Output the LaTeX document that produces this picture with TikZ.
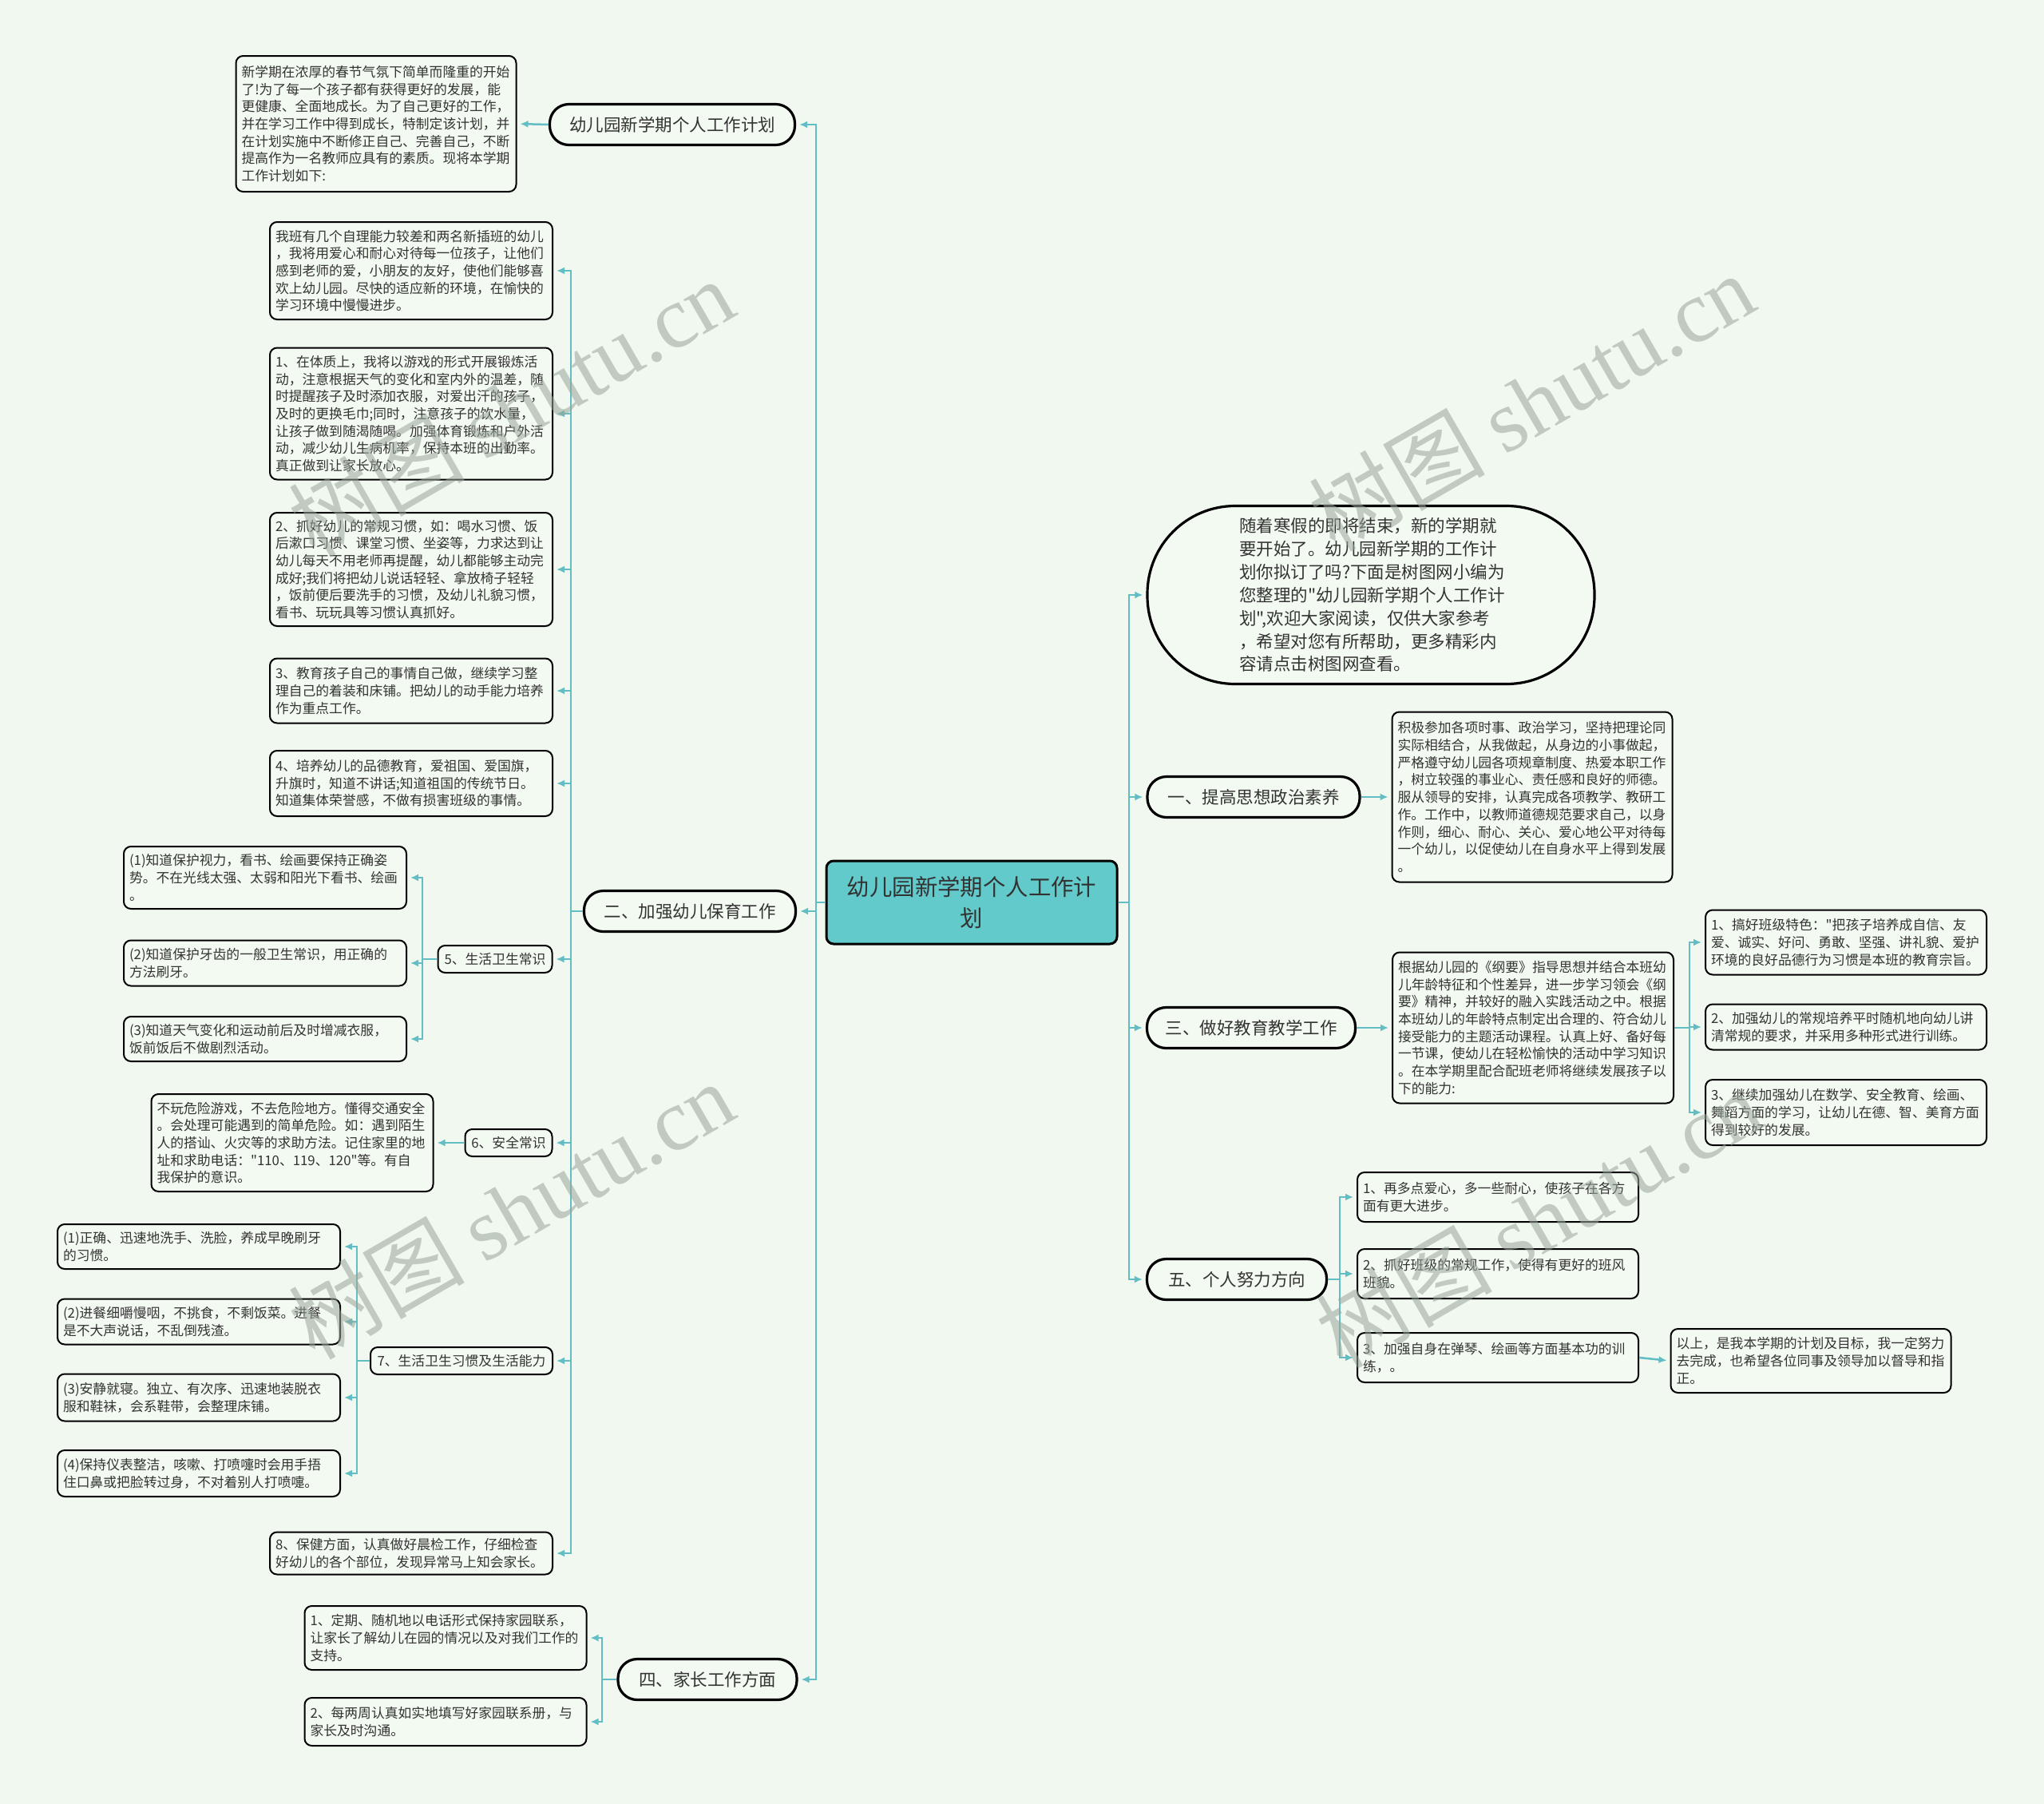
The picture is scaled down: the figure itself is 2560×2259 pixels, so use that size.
\documentclass[tikz,border=0pt]{standalone}
\usepackage{fontspec}
\setmainfont{Noto Sans CJK SC}[Ligatures=TeXOff]
\newfontfamily\wmserif{Liberation Serif}
\usetikzlibrary{arrows.meta}
\definecolor{bgc}{HTML}{F0F8EF}
\definecolor{boxc}{HTML}{F3FAF2}
\definecolor{linec}{HTML}{62BEC4}
\definecolor{rootc}{HTML}{62CACB}
\definecolor{txt}{HTML}{333333}
\definecolor{wmc}{HTML}{9AA59A}
\tikzset{
  tbox/.style={draw=black, line width=2, rounded corners=9, fill=boxc, text=txt,
    align=left, inner sep=7, font=\fontsize{16.8}{21.7}\selectfont,
    text width=#1-14, minimum width=#1},
  sbox/.style={draw=black, line width=2, rounded corners=9, fill=boxc, text=txt,
    inner sep=5, font=\fontsize{16.8}{21.7}\selectfont, minimum height=34},
  pill/.style={draw=black, line width=3.2, rounded corners=24, fill=boxc, text=txt,
    inner sep=6, font=\fontsize{21.5}{26}\selectfont, minimum height=51},
  conn/.style={draw=linec, line width=2.5},
  arr/.style={conn, -{Latex[length=10,width=9]}, shorten >=4},
  wm/.style={text=wmc, opacity=0.55, rotate=30, font=\fontsize{110}{120}\selectfont}
}
\begin{document}
\begin{tikzpicture}[x=1pt,y=-1pt]
\useasboundingbox (0,0) rectangle (2560,2259);
\fill[bgc] (0,0) rectangle (2560,2259);

% root
\node[draw=black, line width=3, rounded corners=9, fill=rootc, text=txt, align=center,
  minimum width=364, minimum height=104, font=\fontsize{28.4}{39}\selectfont] (root) at (1217,1130)
  {幼儿园新学期个人工作计\\划};

% ---------- left side ----------
\coordinate (jL) at (1022,1130);
\node[pill, minimum width=307] (pA) at (842,156) {幼儿园新学期个人工作计划};
\node[tbox=351, minimum height=170] (a1) at (471,155) {新学期在浓厚的春节气氛下简单而隆重的开始\\了!为了每一个孩子都有获得更好的发展，能\\更健康、全面地成长。为了自己更好的工作，\\并在学习工作中得到成长，特制定该计划，并\\在计划实施中不断修正自己、完善自己，不断\\提高作为一名教师应具有的素质。现将本学期\\工作计划如下:};

\node[pill, minimum width=265] (p2) at (864,1141) {二、加强幼儿保育工作};
\coordinate (j2) at (715,1141);

\node[tbox=354, minimum height=122] (c0) at (515,339) {我班有几个自理能力较差和两名新插班的幼儿\\，我将用爱心和耐心对待每一位孩子，让他们\\感到老师的爱，小朋友的友好，使他们能够喜\\欢上幼儿园。尽快的适应新的环境，在愉快的\\学习环境中慢慢进步。};
\node[tbox=354, minimum height=165] (c1) at (515,518) {1、在体质上，我将以游戏的形式开展锻炼活\\动，注意根据天气的变化和室内外的温差，随\\时提醒孩子及时添加衣服，对爱出汗的孩子，\\及时的更换毛巾;同时，注意孩子的饮水量，\\让孩子做到随渴随喝。加强体育锻炼和户外活\\动，减少幼儿生病机率，保持本班的出勤率。\\真正做到让家长放心。};
\node[tbox=354, minimum height=142] (c2) at (515,713) {2、抓好幼儿的常规习惯，如：喝水习惯、饭\\后漱口习惯、课堂习惯、坐姿等，力求达到让\\幼儿每天不用老师再提醒，幼儿都能够主动完\\成好;我们将把幼儿说话轻轻、拿放椅子轻轻\\，饭前便后要洗手的习惯，及幼儿礼貌习惯，\\看书、玩玩具等习惯认真抓好。};
\node[tbox=354, minimum height=81] (c3) at (515,865) {3、教育孩子自己的事情自己做，继续学习整\\理自己的着装和床铺。把幼儿的动手能力培养\\作为重点工作。};
\node[tbox=354, minimum height=82] (c4) at (515,981) {4、培养幼儿的品德教育，爱祖国、爱国旗，\\升旗时，知道不讲话;知道祖国的传统节日。\\知道集体荣誉感，不做有损害班级的事情。};
\node[sbox, minimum width=143] (c5) at (620,1201) {5、生活卫生常识};
\node[sbox, minimum width=109] (c6) at (637,1431) {6、安全常识};
\node[sbox, minimum width=228] (c7) at (578,1704) {7、生活卫生习惯及生活能力};
\node[tbox=354, minimum height=53] (c8) at (515,1945) {8、保健方面，认真做好晨检工作，仔细检查\\好幼儿的各个部位，发现异常马上知会家长。};

\coordinate (j5) at (529,1201);
\node[tbox=354, minimum height=78] (c5a) at (332,1099) {(1)知道保护视力，看书、绘画要保持正确姿\\势。不在光线太强、太弱和阳光下看书、绘画\\。};
\node[tbox=354, minimum height=57] (c5b) at (332,1206) {(2)知道保护牙齿的一般卫生常识，用正确的\\方法刷牙。};
\node[tbox=354, minimum height=56] (c5c) at (332,1301) {(3)知道天气变化和运动前后及时增减衣服，\\饭前饭后不做剧烈活动。};

\node[tbox=353, minimum height=122] (c6a) at (366,1431) {不玩危险游戏，不去危险地方。懂得交通安全\\。会处理可能遇到的简单危险。如：遇到陌生\\人的搭讪、火灾等的求助方法。记住家里的地\\址和求助电话："110、119、120"等。有自\\我保护的意识。};

\coordinate (j7) at (447,1704);
\node[tbox=354, minimum height=56] (c7a) at (249,1561) {(1)正确、迅速地洗手、洗脸，养成早晚刷牙\\的习惯。};
\node[tbox=354, minimum height=57] (c7b) at (249,1655) {(2)进餐细嚼慢咽，不挑食，不剩饭菜。进餐\\是不大声说话，不乱倒残渣。};
\node[tbox=354, minimum height=59] (c7c) at (249,1750) {(3)安静就寝。独立、有次序、迅速地装脱衣\\服和鞋袜，会系鞋带，会整理床铺。};
\node[tbox=354, minimum height=58] (c7d) at (249,1845) {(4)保持仪表整洁，咳嗽、打喷嚏时会用手捂\\住口鼻或把脸转过身，不对着别人打喷嚏。};

\node[pill, minimum width=224] (p4) at (886,2103) {四、家长工作方面};
\coordinate (j4) at (754,2103);
\node[tbox=353, minimum height=80] (d1) at (558,2051) {1、定期、随机地以电话形式保持家园联系，\\让家长了解幼儿在园的情况以及对我们工作的\\支持。};
\node[tbox=353, minimum height=60] (d2) at (558,2156) {2、每两周认真如实地填写好家园联系册，与\\家长及时沟通。};

% ---------- right side ----------
\coordinate (jR) at (1414,1130);
\node[draw=black, line width=3.2, rounded corners=110, fill=boxc, text=txt, align=left,
  minimum width=560, minimum height=223, text width=330, inner sep=6,
  font=\fontsize{21.5}{28.9}\selectfont] (intro) at (1717,745)
  {随着寒假的即将结束，新的学期就\\要开始了。幼儿园新学期的工作计\\划你拟订了吗?下面是树图网小编为\\您整理的"幼儿园新学期个人工作计\\划",欢迎大家阅读，仅供大家参考\\，希望对您有所帮助，更多精彩内\\容请点击树图网查看。};

\node[pill, minimum width=266] (p1) at (1570,998) {一、提高思想政治素养};
\node[tbox=351, minimum height=213] (e1) at (1919,998) {积极参加各项时事、政治学习，坚持把理论同\\实际相结合，从我做起，从身边的小事做起，\\严格遵守幼儿园各项规章制度、热爱本职工作\\，树立较强的事业心、责任感和良好的师德。\\服从领导的安排，认真完成各项教学、教研工\\作。工作中，以教师道德规范要求自己，以身\\作则，细心、耐心、关心、爱心地公平对待每\\一个幼儿，以促使幼儿在自身水平上得到发展\\。};

\node[pill, minimum width=261] (p3) at (1567,1287) {三、做好教育教学工作};
\node[tbox=352, minimum height=189] (f1) at (1920,1287) {根据幼儿园的《纲要》指导思想并结合本班幼\\儿年龄特征和个性差异，进一步学习领会《纲\\要》精神，并较好的融入实践活动之中。根据\\本班幼儿的年龄特点制定出合理的、符合幼儿\\接受能力的主题活动课程。认真上好、备好每\\一节课，使幼儿在轻松愉快的活动中学习知识\\。在本学期里配合配班老师将继续发展孩子以\\下的能力:};
\coordinate (j3) at (2116,1287);
\node[tbox=352, minimum height=81] (f1a) at (2312,1180) {1、搞好班级特色："把孩子培养成自信、友\\爱、诚实、好问、勇敢、坚强、讲礼貌、爱护\\环境的良好品德行为习惯是本班的教育宗旨。};
\node[tbox=352, minimum height=57] (f1b) at (2312,1286) {2、加强幼儿的常规培养平时随机地向幼儿讲\\清常规的要求，并采用多种形式进行训练。};
\node[tbox=352, minimum height=82] (f1c) at (2312,1393) {3、继续加强幼儿在数学、安全教育、绘画、\\舞蹈方面的学习，让幼儿在德、智、美育方面\\得到较好的发展。};

\node[pill, minimum width=225] (p5) at (1549,1602) {五、个人努力方向};
\coordinate (j5r) at (1678,1602);
\node[tbox=352, minimum height=62] (g1) at (1876,1499) {1、再多点爱心，多一些耐心，使孩子在各方\\面有更大进步。};
\node[tbox=352, minimum height=62] (g2) at (1876,1595) {2、抓好班级的常规工作，使得有更好的班风\\班貌。};
\node[tbox=352, minimum height=62] (g3) at (1876,1700) {3、加强自身在弹琴、绘画等方面基本功的训\\练，。};
\node[tbox=351, minimum height=80] (g3a) at (2268,1704) {以上，是我本学期的计划及目标，我一定努力\\去完成，也希望各位同事及领导加以督导和指\\正。};

% ---------- connectors ----------
\draw[conn] (root.west) -- (jL);
\draw[arr] (jL) |- (pA.east);
\draw[arr] (jL) |- (p2.east);
\draw[arr] (jL) |- (p4.east);
\draw[arr] (pA.west) -- (a1.east);

\draw[conn] (p2.west) -- (j2);
\foreach \n in {c0,c1,c2,c3,c4,c5,c6,c7,c8} \draw[arr] (j2) |- (\n.east);

\draw[conn] (c5.west) -- (j5);
\foreach \n in {c5a,c5b,c5c} \draw[arr] (j5) |- (\n.east);
\draw[arr] (c6.west) -- (c6a.east);
\draw[conn] (c7.west) -- (j7);
\foreach \n in {c7a,c7b,c7c,c7d} \draw[arr] (j7) |- (\n.east);

\draw[conn] (p4.west) -- (j4);
\foreach \n in {d1,d2} \draw[arr] (j4) |- (\n.east);

\draw[conn] (root.east) -- (jR);
\foreach \n in {intro,p1,p3,p5} \draw[arr] (jR) |- (\n.west);
\draw[arr] (p1.east) -- (e1.west);
\draw[arr] (p3.east) -- (f1.west);
\draw[conn] (f1.east) -- (j3);
\foreach \n in {f1a,f1b,f1c} \draw[arr] (j3) |- (\n.west);
\draw[conn] (p5.east) -- (j5r);
\foreach \n in {g1,g2,g3} \draw[arr] (j5r) |- (\n.west);
\draw[arr] (g3.east) -- (g3a.west);

% ---------- watermarks ----------
\node[wm] (w1) at (640,510) {树图 {\wmserif shutu.cn}};
\node[wm] (w2) at (1918,503) {树图 {\wmserif shutu.cn}};
\node[wm] (w3) at (640,1515) {树图 {\wmserif shutu.cn}};
\node[wm] (w4) at (1927,1526) {树图 {\wmserif shutu.cn}};
\end{tikzpicture}
\end{document}
